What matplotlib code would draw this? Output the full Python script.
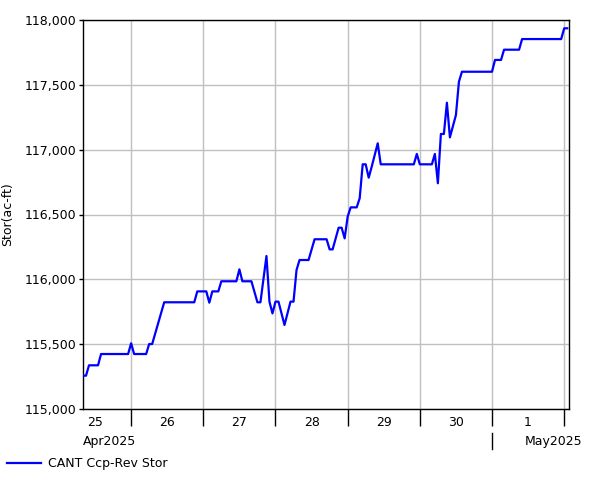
import matplotlib
matplotlib.use("Agg")
import matplotlib.pyplot as plt
import matplotlib.dates as mdates
import matplotlib.transforms as mtransforms
from matplotlib.ticker import FuncFormatter, MultipleLocator
import pandas as pd

# ---------------------------------------------------------------------
# data : hours since 25 Apr 2025 00:00 and storage (ac-ft)
# ---------------------------------------------------------------------
hours = [8, 9, 10, 13, 14, 23, 24, 25, 29, 30, 31, 35, 45, 46, 49, 50, 51,
         53, 54, 59, 60, 61, 64, 66, 67, 69, 70, 71, 72, 73, 75, 77, 78, 79,
         80, 83, 85, 89, 90, 91, 93, 94, 95, 96, 97, 99, 100, 101, 102, 103,
         104, 106, 107, 118, 119, 120, 124, 125, 126, 127, 128, 129, 130, 132,
         133, 134, 144, 145, 147, 148, 153, 154, 167, 168, 169]
storage = [115257, 115257, 115337, 115337, 115424, 115424, 115507, 115424,
           115424, 115501, 115501, 115823, 115823, 115907, 115907, 115820,
           115907, 115907, 115985, 115985, 116077, 115985, 115985, 115823,
           115823, 116180, 115828, 115737, 115828, 115828, 115648, 115828,
           115828, 116072, 116149, 116149, 116309, 116309, 116231, 116231,
           116398, 116398, 116316, 116483, 116555, 116555, 116625, 116887,
           116887, 116784, 116869, 117049, 116887, 116887, 116967, 116887,
           116887, 116967, 116741, 117121, 117121, 117362, 117095, 117267,
           117524, 117601, 117601, 117692, 117692, 117771, 117771, 117853,
           117853, 117936, 117936]
series_name = "CANT Ccp-Rev Stor"
y_label = "Stor(ac-ft)"

start = pd.Timestamp("2025-04-25 00:00")
times = [start + pd.Timedelta(hours=h) for h in hours]

# ---------------------------------------------------------------------
# figure
# ---------------------------------------------------------------------
W, H = 601, 480
fig = plt.figure(figsize=(W / 100, H / 100), dpi=100)
ax = fig.add_axes([83 / W, 1 - 409 / H, (569 - 83) / W, (409 - 20) / H])

ax.plot(times, storage, color="#0000ff", lw=1.6, zorder=3)

ax.set_xlim(start + pd.Timedelta(hours=8), start + pd.Timedelta(hours=169.6))
ax.set_ylim(115000, 118000)

# y axis
ax.yaxis.set_major_locator(MultipleLocator(500))
ax.yaxis.set_major_formatter(FuncFormatter(lambda v, p: f"{v:,.0f}"))
ax.tick_params(axis="y", length=3, width=1, labelsize=9, pad=2)
ax.set_ylabel(y_label, fontsize=9)
ax.yaxis.set_label_coords(-0.142, 0.5)

# x axis : midnight ticks (long, no label), noon labels (no tick)
ax.xaxis.set_major_locator(mdates.DayLocator())
ax.xaxis.set_major_formatter(plt.NullFormatter())
ax.xaxis.set_minor_locator(mdates.HourLocator(byhour=12))
ax.xaxis.set_minor_formatter(mdates.DateFormatter("%-d"))
ax.tick_params(axis="x", which="major", length=12, width=1)
ax.tick_params(axis="x", which="minor", length=0, labelsize=9, pad=5)

ax.grid(True, which="major", color="#c0c0c0", lw=1)
ax.set_axisbelow(True)
for s in ax.spines.values():
    s.set_color("black")
    s.set_linewidth(1)

# month row under the day labels
trans = mtransforms.blended_transform_factory(ax.transData, ax.transAxes)
ax.text(0, -0.083, "Apr2025", transform=ax.transAxes, fontsize=9,
        ha="left", va="center")
may1 = pd.Timestamp("2025-05-01")
ax.plot([may1, may1], [-0.062, -0.103], color="black", lw=1,
        transform=trans, clip_on=False)
fig.text(525 / W, 1 - 441 / H, "May2025", fontsize=9, ha="left", va="center")

# legend
fig.legend([ax.lines[0]], [series_name], loc="center left",
           bbox_to_anchor=(7 / W, 1 - 464 / H), frameon=False, fontsize=9,
           handlelength=2.7, handletextpad=0.55, borderpad=0, borderaxespad=0)

fig.savefig("out.png", dpi=100)
